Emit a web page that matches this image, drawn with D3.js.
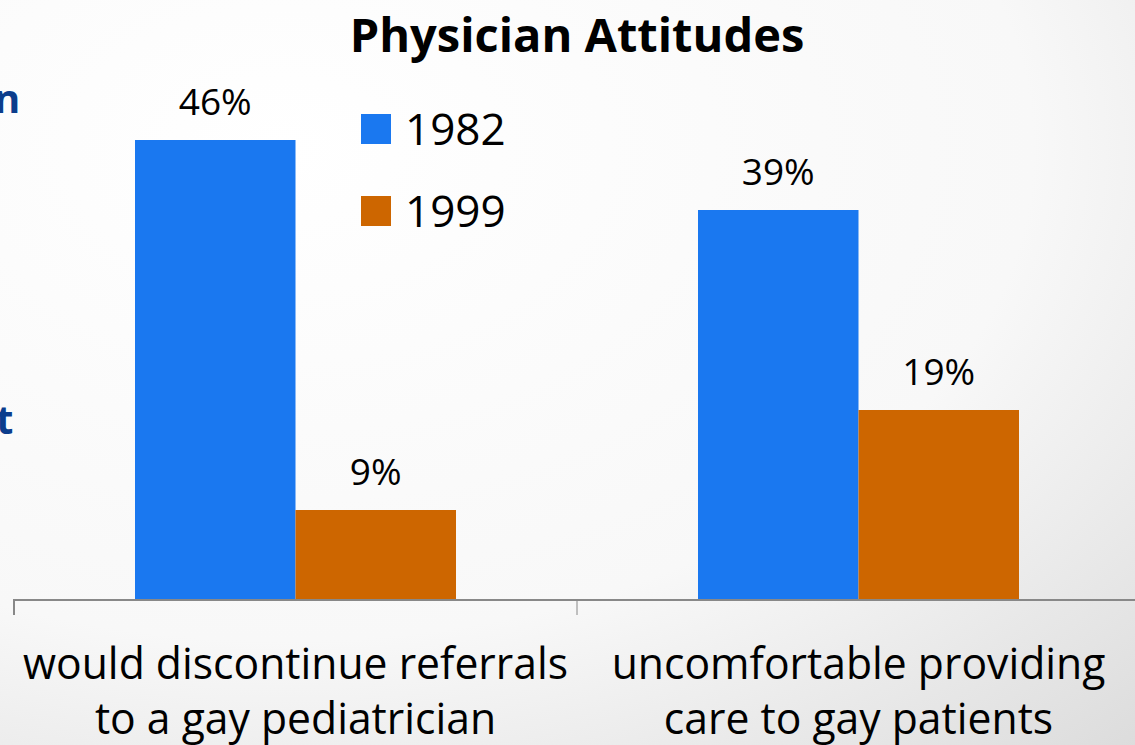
<!DOCTYPE html>
<html>
<head>
<meta charset="utf-8">
<script src="https://cdn.jsdelivr.net/npm/d3@7"></script>
<style>
  body { margin: 0; overflow: hidden; }
  text { font-family: "Open Sans", sans-serif; fill: #000; }
</style>
</head>
<body>
<script>
  var categories = [
    ["would discontinue referrals", "to a gay pediatrician"],
    ["uncomfortable providing", "care to gay patients"]
  ];
  var seriesNames = ["1982", "1999"];
  var values1982 = [46, 39];
  var values1999 = [9, 19];
  var colors = ["#1a78f0", "#cd6600"];

  var w = 1135;
  var h = 745;

  var svg = d3.select("body").append("svg")
              .attr("width", w)
              .attr("height", h);

  // background, faint gradient like the slide
  var defs = svg.append("defs");
  var grad = defs.append("radialGradient")
                 .attr("id", "bg")
                 .attr("cx", "25%").attr("cy", "20%").attr("r", "110%");
  grad.append("stop").attr("offset", "0%").attr("stop-color", "#ffffff");
  grad.append("stop").attr("offset", "60%").attr("stop-color", "#f8f8f8");
  grad.append("stop").attr("offset", "100%").attr("stop-color", "#dcdcdc");
  svg.append("rect").attr("width", w).attr("height", h).attr("fill", "url(#bg)");

  // cut-off slide text on the left edge
  svg.append("text").attr("x", -6).attr("y", 113)
     .style("font-size", "40px").style("font-weight", "bold").style("fill", "#0b3d8c")
     .text("n");
  svg.append("text").attr("x", -4).attr("y", 434)
     .style("font-size", "40px").style("font-weight", "bold").style("fill", "#0b3d8c")
     .text("t");

  svg.append("text")
     .attr("x", 577).attr("y", 52)
     .attr("text-anchor", "middle")
     .style("font-size", "47px").style("font-weight", "bold")
     .text("Physician Attitudes");

  var data = categories.map(function(c, i){
    return {cat: i, values: [values1982[i], values1999[i]]};
  });

  var x0 = d3.scaleBand()
             .domain(d3.range(categories.length))
             .range([14, 1140]);

  var x1 = d3.scaleBand()
             .domain(d3.range(seriesNames.length))
             .range([0, x0.bandwidth()])
             .paddingOuter(0.754);

  var y = d3.scaleLinear()
            .domain([0, 50])
            .range([600, 100]);

  var groups = svg.selectAll(".group")
                  .data(data)
                  .enter()
                  .append("g")
                  .attr("transform", function(d){ return "translate(" + x0(d.cat) + ",0)"; });

  groups.selectAll("rect")
        .data(function(d){ return d.values; })
        .enter()
        .append("rect")
        .attr("x", function(d, i){ return x1(i); })
        .attr("width", x1.bandwidth())
        .attr("y", function(d){ return y(d); })
        .attr("height", function(d){ return y(0) - y(d); })
        .attr("fill", function(d, i){ return colors[i]; });

  groups.selectAll(".val")
        .data(function(d){ return d.values; })
        .enter()
        .append("text")
        .attr("class", "val")
        .attr("x", function(d, i){ return x1(i) + x1.bandwidth() / 2; })
        .attr("y", function(d){ return y(d) - 25; })
        .attr("text-anchor", "middle")
        .style("font-size", "37px")
        .text(function(d){ return d + "%"; });

  var xAxis = d3.axisBottom(x0)
                .tickSize(15)
                .tickFormat("");
  var axis = svg.append("g")
     .attr("transform", "translate(0,600)")
     .call(xAxis);
  axis.select(".domain").attr("stroke", "#888").attr("stroke-width", 2)
      .attr("d", "M14,15V0H1140");
  axis.selectAll(".tick line")
      .attr("stroke", "#888")
      .attr("transform", function(){ return "translate(" + (-x0.bandwidth() / 2) + ",0)"; });

  // category labels
  categories.forEach(function(c, i){
    var cx = x0(i) + x0.bandwidth() / 2;
    c.forEach(function(line, j){
      svg.append("text")
         .attr("transform", "translate(" + cx + "," + (679 + j * 55) + ") scale(0.97,1)")
         .attr("text-anchor", "middle")
         .style("font-size", "44px")
         .text(line);
    });
  });

  // legend
  var legend = svg.selectAll(".legend")
                  .data(seriesNames)
                  .enter()
                  .append("g")
                  .attr("transform", function(d, i){ return "translate(361," + (114 + i * 82) + ")"; });
  legend.append("rect")
        .attr("width", 30).attr("height", 30)
        .attr("fill", function(d, i){ return colors[i]; });
  legend.append("text")
        .attr("x", 44).attr("y", 31)
        .style("font-size", "44px")
        .text(function(d){ return d; });
</script>
</body>
</html>
